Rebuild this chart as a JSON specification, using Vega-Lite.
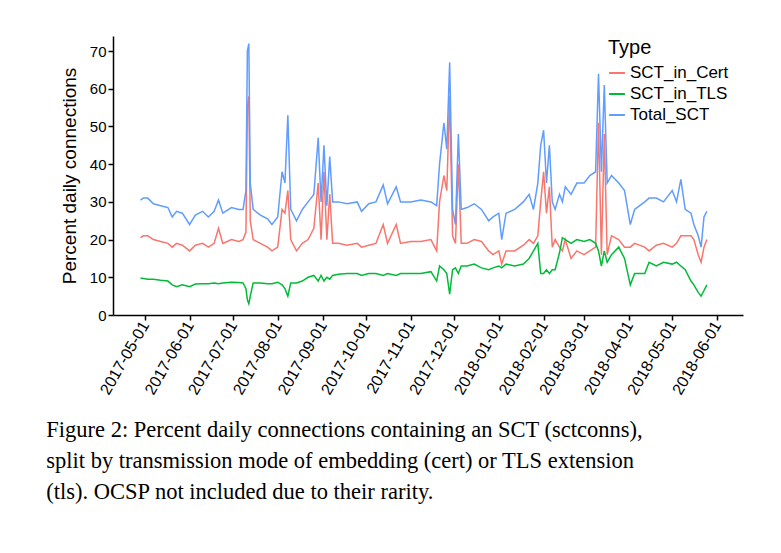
{
  "$schema": "https://vega.github.io/schema/vega-lite/v6.json",
  "width": 630,
  "height": 279,
  "padding": {"left": 46, "top": 36, "right": 40, "bottom": 5},
  "config": {
    "view": {"stroke": null},
    "font": "Liberation Sans",
    "axis": {"domainColor": "black", "tickColor": "black", "labelColor": "black", "titleColor": "black", "grid": false, "labelFontSize": 15, "titleFontSize": 19, "titleFontWeight": "normal", "domainWidth": 1.5, "tickWidth": 1.5}
  },
  "title": {
    "text": ["Figure 2: Percent daily connections containing an SCT (sctconns),", "split by transmission mode of embedding (cert) or TLS extension", "(tls). OCSP not included due to their rarity."],
    "orient": "bottom", "anchor": "start", "frame": "bounds",
    "font": "Liberation Serif", "fontSize": 22.5, "fontWeight": "normal", "lineHeight": 31, "offset": 22, "dx": -14, "color": "black"
  },
  "data": {
    "values": [
      {"date": "2017-04-28", "SCT_in_Cert": 20.5, "SCT_in_TLS": 9.8, "Total_SCT": 30.5},
      {"date": "2017-04-30", "SCT_in_Cert": 21, "SCT_in_TLS": 9.7, "Total_SCT": 31},
      {"date": "2017-05-03", "SCT_in_Cert": 21, "SCT_in_TLS": 9.5, "Total_SCT": 31},
      {"date": "2017-05-07", "SCT_in_Cert": 20, "SCT_in_TLS": 9.5, "Total_SCT": 29.5},
      {"date": "2017-05-12", "SCT_in_Cert": 19.5, "SCT_in_TLS": 9.2, "Total_SCT": 29},
      {"date": "2017-05-17", "SCT_in_Cert": 19, "SCT_in_TLS": 9, "Total_SCT": 28.5},
      {"date": "2017-05-20", "SCT_in_Cert": 18, "SCT_in_TLS": 8, "Total_SCT": 26},
      {"date": "2017-05-23", "SCT_in_Cert": 19, "SCT_in_TLS": 7.5, "Total_SCT": 27.5},
      {"date": "2017-05-27", "SCT_in_Cert": 18.5, "SCT_in_TLS": 8, "Total_SCT": 27},
      {"date": "2017-06-01", "SCT_in_Cert": 17, "SCT_in_TLS": 7.5, "Total_SCT": 24},
      {"date": "2017-06-05", "SCT_in_Cert": 18.5, "SCT_in_TLS": 8.2, "Total_SCT": 26.5},
      {"date": "2017-06-10", "SCT_in_Cert": 19, "SCT_in_TLS": 8.3, "Total_SCT": 27.5},
      {"date": "2017-06-14", "SCT_in_Cert": 18, "SCT_in_TLS": 8.3, "Total_SCT": 26},
      {"date": "2017-06-18", "SCT_in_Cert": 19, "SCT_in_TLS": 8.5, "Total_SCT": 27.5},
      {"date": "2017-06-21", "SCT_in_Cert": 23, "SCT_in_TLS": 8.3, "Total_SCT": 30.5},
      {"date": "2017-06-24", "SCT_in_Cert": 19, "SCT_in_TLS": 8.5, "Total_SCT": 27},
      {"date": "2017-06-30", "SCT_in_Cert": 20, "SCT_in_TLS": 8.7, "Total_SCT": 28.5},
      {"date": "2017-07-05", "SCT_in_Cert": 19.5, "SCT_in_TLS": 8.6, "Total_SCT": 28},
      {"date": "2017-07-08", "SCT_in_Cert": 20, "SCT_in_TLS": 8.5, "Total_SCT": 28},
      {"date": "2017-07-10", "SCT_in_Cert": 22, "SCT_in_TLS": 7, "Total_SCT": 33},
      {"date": "2017-07-11", "SCT_in_Cert": 55, "SCT_in_TLS": 4, "Total_SCT": 70},
      {"date": "2017-07-12", "SCT_in_Cert": 58, "SCT_in_TLS": 3, "Total_SCT": 72},
      {"date": "2017-07-13", "SCT_in_Cert": 25, "SCT_in_TLS": 5, "Total_SCT": 35},
      {"date": "2017-07-15", "SCT_in_Cert": 20, "SCT_in_TLS": 8.5, "Total_SCT": 28},
      {"date": "2017-07-20", "SCT_in_Cert": 19, "SCT_in_TLS": 8.5, "Total_SCT": 26.5},
      {"date": "2017-07-25", "SCT_in_Cert": 18, "SCT_in_TLS": 8.3, "Total_SCT": 25.5},
      {"date": "2017-07-28", "SCT_in_Cert": 17, "SCT_in_TLS": 8.3, "Total_SCT": 24},
      {"date": "2017-08-01", "SCT_in_Cert": 18, "SCT_in_TLS": 8.7, "Total_SCT": 26},
      {"date": "2017-08-04", "SCT_in_Cert": 28, "SCT_in_TLS": 8, "Total_SCT": 38},
      {"date": "2017-08-06", "SCT_in_Cert": 27, "SCT_in_TLS": 7, "Total_SCT": 35},
      {"date": "2017-08-08", "SCT_in_Cert": 33, "SCT_in_TLS": 5, "Total_SCT": 53},
      {"date": "2017-08-10", "SCT_in_Cert": 20, "SCT_in_TLS": 8.5, "Total_SCT": 28},
      {"date": "2017-08-14", "SCT_in_Cert": 17, "SCT_in_TLS": 8.5, "Total_SCT": 25},
      {"date": "2017-08-18", "SCT_in_Cert": 19, "SCT_in_TLS": 9, "Total_SCT": 28},
      {"date": "2017-08-22", "SCT_in_Cert": 20, "SCT_in_TLS": 10, "Total_SCT": 30},
      {"date": "2017-08-26", "SCT_in_Cert": 23, "SCT_in_TLS": 10.5, "Total_SCT": 32},
      {"date": "2017-08-29", "SCT_in_Cert": 35, "SCT_in_TLS": 9, "Total_SCT": 47},
      {"date": "2017-08-31", "SCT_in_Cert": 20, "SCT_in_TLS": 10.5, "Total_SCT": 30},
      {"date": "2017-09-02", "SCT_in_Cert": 38, "SCT_in_TLS": 9, "Total_SCT": 45},
      {"date": "2017-09-04", "SCT_in_Cert": 20, "SCT_in_TLS": 10, "Total_SCT": 29},
      {"date": "2017-09-06", "SCT_in_Cert": 32, "SCT_in_TLS": 9.5, "Total_SCT": 42},
      {"date": "2017-09-08", "SCT_in_Cert": 19, "SCT_in_TLS": 10.5, "Total_SCT": 30},
      {"date": "2017-09-12", "SCT_in_Cert": 19, "SCT_in_TLS": 10.8, "Total_SCT": 30},
      {"date": "2017-09-18", "SCT_in_Cert": 18.5, "SCT_in_TLS": 11, "Total_SCT": 29.5},
      {"date": "2017-09-25", "SCT_in_Cert": 19, "SCT_in_TLS": 11, "Total_SCT": 30},
      {"date": "2017-09-28", "SCT_in_Cert": 18, "SCT_in_TLS": 10.5, "Total_SCT": 27.5},
      {"date": "2017-10-03", "SCT_in_Cert": 18.5, "SCT_in_TLS": 11, "Total_SCT": 29.5},
      {"date": "2017-10-08", "SCT_in_Cert": 19, "SCT_in_TLS": 11, "Total_SCT": 30},
      {"date": "2017-10-13", "SCT_in_Cert": 24, "SCT_in_TLS": 10.5, "Total_SCT": 34.5},
      {"date": "2017-10-16", "SCT_in_Cert": 19, "SCT_in_TLS": 11, "Total_SCT": 29.5},
      {"date": "2017-10-22", "SCT_in_Cert": 24, "SCT_in_TLS": 10.5, "Total_SCT": 34},
      {"date": "2017-10-25", "SCT_in_Cert": 19, "SCT_in_TLS": 11, "Total_SCT": 30},
      {"date": "2017-11-01", "SCT_in_Cert": 19.5, "SCT_in_TLS": 11, "Total_SCT": 30},
      {"date": "2017-11-08", "SCT_in_Cert": 19.5, "SCT_in_TLS": 11, "Total_SCT": 30.5},
      {"date": "2017-11-15", "SCT_in_Cert": 20, "SCT_in_TLS": 11.5, "Total_SCT": 30},
      {"date": "2017-11-19", "SCT_in_Cert": 17, "SCT_in_TLS": 9, "Total_SCT": 29},
      {"date": "2017-11-21", "SCT_in_Cert": 30, "SCT_in_TLS": 13, "Total_SCT": 40},
      {"date": "2017-11-24", "SCT_in_Cert": 37, "SCT_in_TLS": 12, "Total_SCT": 51},
      {"date": "2017-11-26", "SCT_in_Cert": 33, "SCT_in_TLS": 11, "Total_SCT": 44},
      {"date": "2017-11-28", "SCT_in_Cert": 58, "SCT_in_TLS": 5.5, "Total_SCT": 67},
      {"date": "2017-11-30", "SCT_in_Cert": 21, "SCT_in_TLS": 12, "Total_SCT": 28},
      {"date": "2017-12-02", "SCT_in_Cert": 19, "SCT_in_TLS": 12.5, "Total_SCT": 24},
      {"date": "2017-12-04", "SCT_in_Cert": 40, "SCT_in_TLS": 11, "Total_SCT": 48},
      {"date": "2017-12-06", "SCT_in_Cert": 19, "SCT_in_TLS": 13, "Total_SCT": 28},
      {"date": "2017-12-10", "SCT_in_Cert": 19, "SCT_in_TLS": 13, "Total_SCT": 28.5},
      {"date": "2017-12-15", "SCT_in_Cert": 20, "SCT_in_TLS": 13.5, "Total_SCT": 29.5},
      {"date": "2017-12-20", "SCT_in_Cert": 19.5, "SCT_in_TLS": 12.5, "Total_SCT": 28},
      {"date": "2017-12-25", "SCT_in_Cert": 17, "SCT_in_TLS": 12, "Total_SCT": 25},
      {"date": "2017-12-28", "SCT_in_Cert": 16, "SCT_in_TLS": 12.5, "Total_SCT": 26},
      {"date": "2018-01-01", "SCT_in_Cert": 17, "SCT_in_TLS": 13, "Total_SCT": 27},
      {"date": "2018-01-03", "SCT_in_Cert": 13.5, "SCT_in_TLS": 12.5, "Total_SCT": 20},
      {"date": "2018-01-06", "SCT_in_Cert": 17, "SCT_in_TLS": 13.5, "Total_SCT": 27},
      {"date": "2018-01-12", "SCT_in_Cert": 17, "SCT_in_TLS": 13, "Total_SCT": 28},
      {"date": "2018-01-18", "SCT_in_Cert": 18.5, "SCT_in_TLS": 13.5, "Total_SCT": 30},
      {"date": "2018-01-22", "SCT_in_Cert": 20, "SCT_in_TLS": 15, "Total_SCT": 32},
      {"date": "2018-01-25", "SCT_in_Cert": 19, "SCT_in_TLS": 17, "Total_SCT": 28},
      {"date": "2018-01-28", "SCT_in_Cert": 21, "SCT_in_TLS": 19, "Total_SCT": 35},
      {"date": "2018-01-30", "SCT_in_Cert": 30, "SCT_in_TLS": 11, "Total_SCT": 45},
      {"date": "2018-02-01", "SCT_in_Cert": 38, "SCT_in_TLS": 11, "Total_SCT": 49},
      {"date": "2018-02-03", "SCT_in_Cert": 27, "SCT_in_TLS": 12, "Total_SCT": 35},
      {"date": "2018-02-05", "SCT_in_Cert": 34, "SCT_in_TLS": 11, "Total_SCT": 45},
      {"date": "2018-02-07", "SCT_in_Cert": 18, "SCT_in_TLS": 12, "Total_SCT": 30},
      {"date": "2018-02-09", "SCT_in_Cert": 20, "SCT_in_TLS": 12, "Total_SCT": 28},
      {"date": "2018-02-12", "SCT_in_Cert": 18, "SCT_in_TLS": 16.5, "Total_SCT": 32},
      {"date": "2018-02-14", "SCT_in_Cert": 17, "SCT_in_TLS": 20.5, "Total_SCT": 30},
      {"date": "2018-02-16", "SCT_in_Cert": 20, "SCT_in_TLS": 20, "Total_SCT": 34},
      {"date": "2018-02-20", "SCT_in_Cert": 15, "SCT_in_TLS": 19, "Total_SCT": 32},
      {"date": "2018-02-24", "SCT_in_Cert": 17, "SCT_in_TLS": 20, "Total_SCT": 35},
      {"date": "2018-03-01", "SCT_in_Cert": 16, "SCT_in_TLS": 19.5, "Total_SCT": 35},
      {"date": "2018-03-05", "SCT_in_Cert": 17, "SCT_in_TLS": 20, "Total_SCT": 37},
      {"date": "2018-03-09", "SCT_in_Cert": 18, "SCT_in_TLS": 19, "Total_SCT": 38},
      {"date": "2018-03-11", "SCT_in_Cert": 51, "SCT_in_TLS": 17, "Total_SCT": 64},
      {"date": "2018-03-13", "SCT_in_Cert": 16, "SCT_in_TLS": 13, "Total_SCT": 38},
      {"date": "2018-03-15", "SCT_in_Cert": 48, "SCT_in_TLS": 17, "Total_SCT": 61},
      {"date": "2018-03-17", "SCT_in_Cert": 16, "SCT_in_TLS": 14, "Total_SCT": 35},
      {"date": "2018-03-20", "SCT_in_Cert": 21, "SCT_in_TLS": 16, "Total_SCT": 37},
      {"date": "2018-03-25", "SCT_in_Cert": 20, "SCT_in_TLS": 18, "Total_SCT": 35},
      {"date": "2018-03-29", "SCT_in_Cert": 18, "SCT_in_TLS": 15, "Total_SCT": 33},
      {"date": "2018-04-02", "SCT_in_Cert": 18, "SCT_in_TLS": 8, "Total_SCT": 24},
      {"date": "2018-04-05", "SCT_in_Cert": 19, "SCT_in_TLS": 11, "Total_SCT": 28},
      {"date": "2018-04-12", "SCT_in_Cert": 18, "SCT_in_TLS": 11, "Total_SCT": 30},
      {"date": "2018-04-15", "SCT_in_Cert": 17, "SCT_in_TLS": 14, "Total_SCT": 31},
      {"date": "2018-04-20", "SCT_in_Cert": 18.5, "SCT_in_TLS": 13, "Total_SCT": 31},
      {"date": "2018-04-25", "SCT_in_Cert": 19, "SCT_in_TLS": 14, "Total_SCT": 30},
      {"date": "2018-05-01", "SCT_in_Cert": 18, "SCT_in_TLS": 13.5, "Total_SCT": 33},
      {"date": "2018-05-04", "SCT_in_Cert": 19, "SCT_in_TLS": 14, "Total_SCT": 30},
      {"date": "2018-05-07", "SCT_in_Cert": 21, "SCT_in_TLS": 13, "Total_SCT": 36},
      {"date": "2018-05-10", "SCT_in_Cert": 21, "SCT_in_TLS": 12, "Total_SCT": 28},
      {"date": "2018-05-14", "SCT_in_Cert": 21, "SCT_in_TLS": 9, "Total_SCT": 27},
      {"date": "2018-05-16", "SCT_in_Cert": 20, "SCT_in_TLS": 8, "Total_SCT": 24},
      {"date": "2018-05-19", "SCT_in_Cert": 16, "SCT_in_TLS": 6, "Total_SCT": 21},
      {"date": "2018-05-21", "SCT_in_Cert": 14, "SCT_in_TLS": 5, "Total_SCT": 18},
      {"date": "2018-05-23", "SCT_in_Cert": 18, "SCT_in_TLS": 6.5, "Total_SCT": 26},
      {"date": "2018-05-25", "SCT_in_Cert": 20, "SCT_in_TLS": 8, "Total_SCT": 27.5}
    ]
  },
  "transform": [
    {"fold": ["SCT_in_Cert", "SCT_in_TLS", "Total_SCT"], "as": ["Type", "value"]}
  ],
  "mark": {"type": "line", "strokeWidth": 1.5},
  "encoding": {
    "x": {
      "field": "date", "type": "temporal",
      "scale": {"domain": ["2017-04-09", "2018-06-19"]},
      "axis": {
        "title": null, "format": "%Y-%m-%d", "labelAngle": -60, "labelAlign": "right", "labelBaseline": "middle", "labelFontSize": 16, "tickSize": 5, "labelOverlap": false,
        "values": [
          {"year": 2017, "month": 5, "date": 1}, {"year": 2017, "month": 6, "date": 1}, {"year": 2017, "month": 7, "date": 1},
          {"year": 2017, "month": 8, "date": 1}, {"year": 2017, "month": 9, "date": 1}, {"year": 2017, "month": 10, "date": 1},
          {"year": 2017, "month": 11, "date": 1}, {"year": 2017, "month": 12, "date": 1}, {"year": 2018, "month": 1, "date": 1},
          {"year": 2018, "month": 2, "date": 1}, {"year": 2018, "month": 3, "date": 1}, {"year": 2018, "month": 4, "date": 1},
          {"year": 2018, "month": 5, "date": 1}, {"year": 2018, "month": 6, "date": 1}
        ]
      }
    },
    "y": {
      "field": "value", "type": "quantitative",
      "scale": {"domain": [0, 74], "nice": false},
      "axis": {"title": "Percent daily connections", "values": [0, 10, 20, 30, 40, 50, 60, 70], "labelFontSize": 15, "titlePadding": 10}
    },
    "color": {
      "field": "Type", "type": "nominal",
      "scale": {"domain": ["SCT_in_Cert", "SCT_in_TLS", "Total_SCT"], "range": ["#F8766D", "#00BA38", "#619CFF"]},
      "legend": {"orient": "none", "legendX": 495, "legendY": 2, "title": "Type", "titleFontSize": 20, "titleFontWeight": "normal", "labelFontSize": 17, "symbolType": "stroke", "symbolSize": 250, "symbolStrokeWidth": 2, "rowPadding": 4, "titlePadding": 6, "titleColor": "black", "labelColor": "black"}
    }
  }
}
